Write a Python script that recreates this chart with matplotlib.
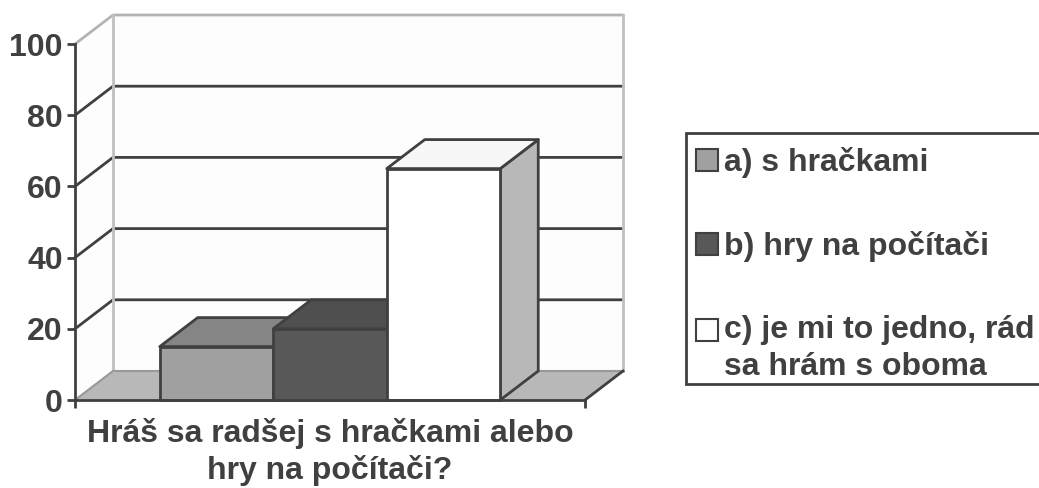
import matplotlib
matplotlib.use('Agg')
import matplotlib.pyplot as plt
from matplotlib.legend_handler import HandlerPatch
from matplotlib.patches import Rectangle

categories = ['a) s hračkami', 'b) hry na počítači', 'c) je mi to jedno, rád\nsa hrám s oboma']
values = [15, 20, 65]
yticks = [0, 20, 40, 60, 80, 100]
xlabel = 'Hráš sa radšej s hračkami alebo\nhry na počítači?'

front_cols = ['#a0a0a0', '#585858', '#ffffff']
top_cols = ['#858585', '#4f4f4f', '#f7f7f7']
side_cols = ['#787878', '#3f3f3f', '#b8b8b8']
dark = '#404040'

W, H = 1039, 488
plt.rcParams['font.family'] = ['Liberation Sans', 'DejaVu Sans']
plt.rcParams['font.weight'] = 'bold'

fig = plt.figure(figsize=(W / 100, H / 100), dpi=100)
ax = fig.add_axes([75 / W, (H - 400) / H, 510 / W, 356 / H])
ax.set_xlim(0, 1)
ax.set_ylim(0, 100)

# 3d depth, in data units
dx = 38 / 510
dy = 29 / 3.56
bar_w = 113.5 / 510
lw = 2.0


def face(xs, ys, color, edge=dark, z=2, lw=lw):
    ax.fill(xs, ys, facecolor=color, edgecolor=edge, lw=lw, zorder=z,
            clip_on=False, joinstyle='round')


# walls and floor
face([dx, 1 + dx, 1 + dx, dx], [dy, dy, 100 + dy, 100 + dy], '#fdfdfd', 'none', 1)
face([0, dx, dx, 0], [0, dy, 100 + dy, 100], '#fdfdfd', 'none', 1)
face([0, dx, 1 + dx, 1], [0, dy, dy, 0], '#b8b8b8', 'none', 1)

for t in yticks[1:-1]:
    ax.plot([0, dx, 1 + dx], [t, t + dy, t + dy], color=dark, lw=lw, zorder=1.5, clip_on=False)
ax.plot([0, dx, 1 + dx], [100, 100 + dy, 100 + dy], color='#b4b4b4', lw=lw, zorder=1.5, clip_on=False)
ax.plot([dx, dx], [dy, 100 + dy], color='#c0c0c0', lw=lw, zorder=1.5, clip_on=False)
ax.plot([1 + dx, 1 + dx], [dy, 100 + dy], color='#c0c0c0', lw=lw, zorder=1.5, clip_on=False)
ax.plot([0, dx, 1 + dx], [0, dy, dy], color='#999999', lw=1.5, zorder=1.5, clip_on=False)
ax.plot([1, 1 + dx], [0, dy], color=dark, lw=lw, zorder=1.5, clip_on=False)

handles = []
for i, v in enumerate(values):
    x0 = 0.5 + (i - 1.5) * bar_w
    x1 = x0 + bar_w
    face([x1, x1 + dx, x1 + dx, x1], [0, dy, v + dy, v], side_cols[i], z=2 + i)
    face([x0, x0 + dx, x1 + dx, x1], [v, v + dy, v + dy, v], top_cols[i], z=2 + i)
    b = ax.bar(x0, v, bar_w, align='edge', color=front_cols[i], edgecolor=dark, lw=lw,
               zorder=2.5 + i, clip_on=False)
    b[0].set_label(categories[i])
    handles.append(b[0])

for s in ['top', 'right']:
    ax.spines[s].set_visible(False)
for s in ['left', 'bottom']:
    ax.spines[s].set_linewidth(lw)
    ax.spines[s].set_color(dark)
    ax.spines[s].set_zorder(6)
ax.patch.set_alpha(0)

ax.set_yticks(yticks)
ax.set_xticks([0, 1])
ax.set_xticklabels(['', ''])
ax.tick_params(axis='both', length=5.8, width=lw, color=dark, pad=3)
ax.tick_params(axis='y', labelsize=23, labelcolor=dark)
ax.set_xlabel(xlabel, fontsize=23, fontweight='bold', color=dark, labelpad=4, linespacing=1.27)


def first_line_patch(legend, orig_handle, xdescent, ydescent, width, height, fontsize):
    # multiline labels: keep the swatch on the first line
    off = 18.5 * 0.72 if '\n' in orig_handle.get_label() else 0
    return Rectangle((-xdescent, -ydescent + off), width, height)


# legend box runs off the right edge, so it is drawn on its own
fig.add_artist(Rectangle((686 / W, 1 - 384 / H), 370 / W, 251 / H, transform=fig.transFigure,
                         facecolor='white', edgecolor=dark, lw=lw))
leg = fig.legend(handles=handles, loc='upper left', bbox_to_anchor=(686 / W, 1 - 137.5 / H),
                 bbox_transform=fig.transFigure, fontsize=23, labelcolor=dark, frameon=False,
                 handlelength=0.69, handleheight=0.69,
                 handletextpad=0.19, labelspacing=1.66, borderpad=0.31, borderaxespad=0,
                 handler_map={h: HandlerPatch(patch_func=first_line_patch) for h in handles})
for t in leg.get_texts():
    t.set_linespacing(1.27)
for p in leg.get_patches():
    p.set_linewidth(1.5)

fig.savefig('out.png', dpi=100)
